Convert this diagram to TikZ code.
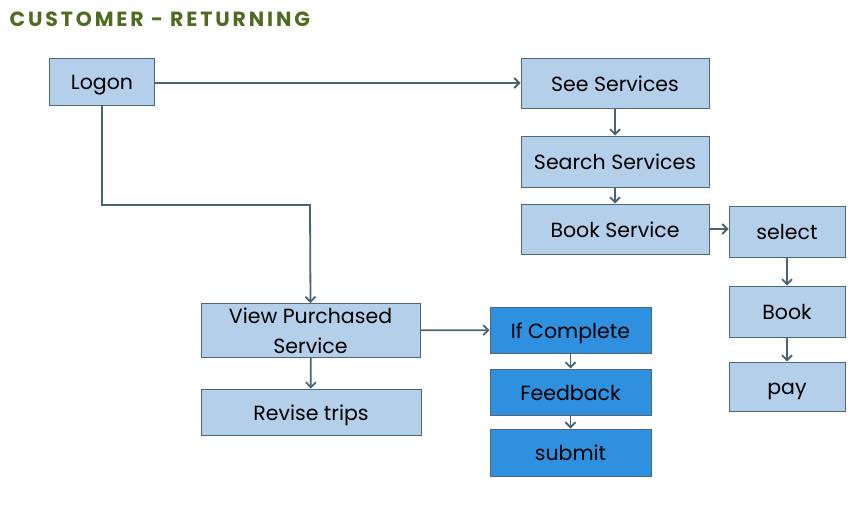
\documentclass[tikz,border=0pt]{standalone}
\usepackage{fontspec}
\setmainfont{Poppins}
\newfontfamily\titlefont[LetterSpace=14]{Poppins}
\usetikzlibrary{arrows.meta,positioning}
\definecolor{boxfill}{HTML}{B4CFE9}
\definecolor{darkfill}{HTML}{2F90DF}
\definecolor{boxline}{HTML}{4F6677}
\definecolor{linkline}{HTML}{4A6473}
\definecolor{titlegreen}{HTML}{4F6B1F}

\begin{document}
\begin{tikzpicture}[x=1pt,y=-1pt,>={Straight Barb[length=5pt,width=10pt,line width=1.8pt]},
    plainbox/.style={draw=boxline,fill=boxfill,line width=1pt,inner sep=0pt,align=center,
                 font=\fontsize{20.5}{30}\selectfont},
    lbox/.style={plainbox,text height=16.6pt,text depth=0pt},
    dbox/.style={lbox,fill=darkfill},
    link/.style={->,draw=linkline,line width=1.8pt}]
    \useasboundingbox (0,0) rectangle (862,517);
    \node[anchor=west,text=titlegreen,font=\titlefont\bfseries\fontsize{20.5}{24}\selectfont] (title) at (6,19) {CUSTOMER - RETURNING};
    % left column
    \node[lbox,minimum width=105pt,minimum height=47pt] (logon) at (102,81.5) {Logon};
    \node[plainbox,minimum width=219pt,minimum height=54pt] (view) at (310.5,330.5) {View Purchased\\Service};
    \node[lbox,minimum width=220pt,minimum height=46pt] (revise) at (311,412) {Revise trips};
    % middle column
    \node[dbox,minimum width=161pt,minimum height=46pt] (complete) at (570.5,330) {If Complete};
    \node[dbox,minimum width=161pt,minimum height=46pt] (feedback) at (570.5,392) {Feedback};
    \node[dbox,minimum width=161pt,minimum height=47pt] (submit) at (570.5,452.5) {submit};
    % right columns
    \node[lbox,minimum width=188pt,minimum height=50pt] (see) at (615,83) {See Services};
    \node[lbox,minimum width=188pt,minimum height=51pt] (search) at (615,161.5) {Search Services};
    \node[lbox,minimum width=188pt,minimum height=50pt] (bookserv) at (615,229) {Book Service};
    \node[lbox,minimum width=116pt,minimum height=51pt] (select) at (787,231.5) {select};
    \node[lbox,minimum width=116pt,minimum height=51pt] (book) at (787,311.5) {Book};
    \node[lbox,minimum width=116pt,minimum height=49pt] (pay) at (787,386.5) {pay};
    \coordinate (turn) at (310,205);
    \path (logon.east |- see) edge [link] (see);
    \draw [link] (logon.south) |- (turn) -- (view.north);
    \path (see) edge [link] (search);
    \path (search) edge [link] (bookserv);
    \path (bookserv) edge [link] (bookserv -| select.west);
    \path (select) edge [link] (book);
    \path (book) edge [link] (pay);
    \path (view) edge [link] (complete);
    \path (view) edge [link] (revise);
    \path (complete) edge [link] (feedback);
    \path (feedback) edge [link] (submit);
\end{tikzpicture}
\end{document}
